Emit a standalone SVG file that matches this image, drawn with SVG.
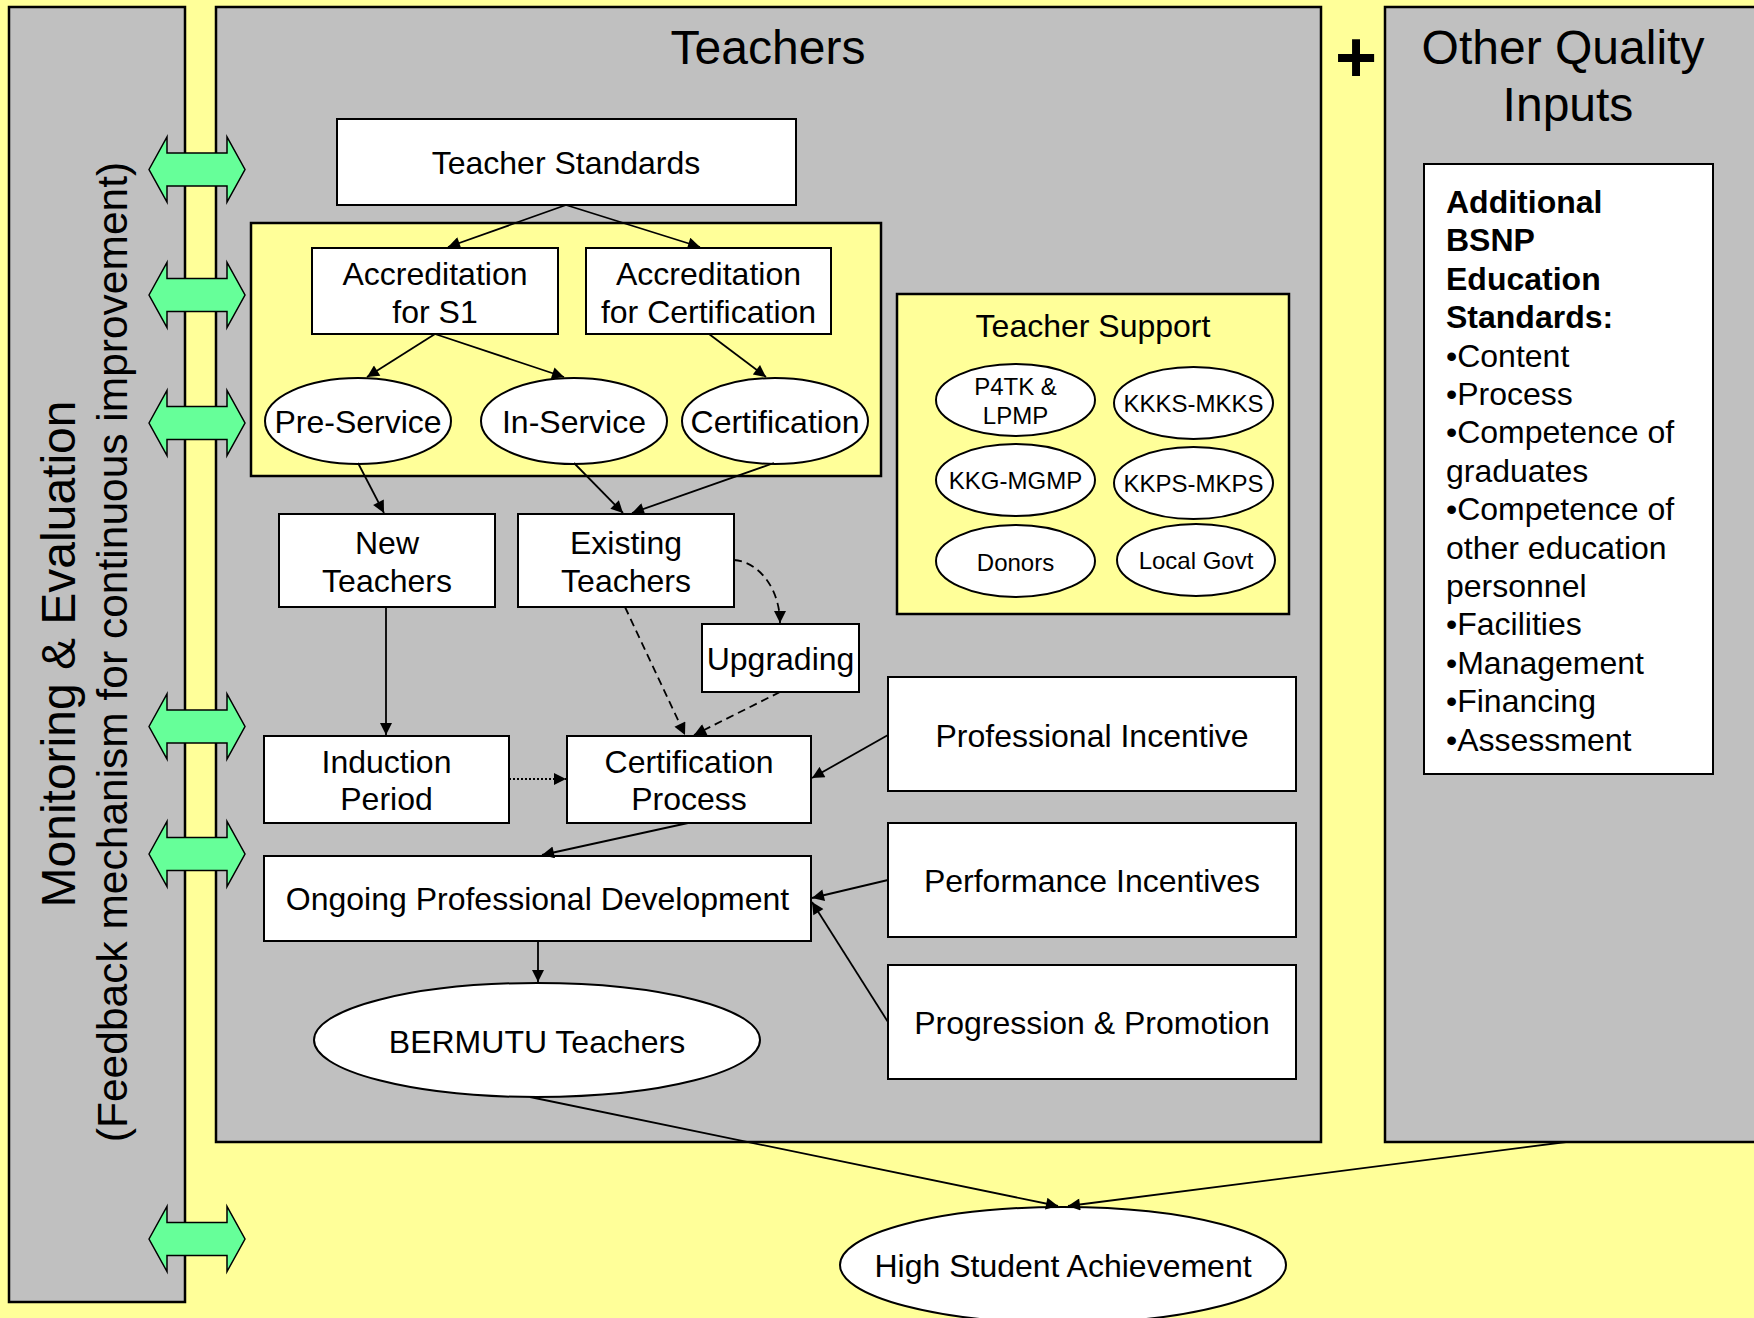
<svg xmlns="http://www.w3.org/2000/svg" width="1754" height="1318" viewBox="0 0 1754 1318">
<style>
text { font-family: "Liberation Sans", Arial, Helvetica, sans-serif; fill: #000; }
.c { text-anchor: middle; }
.f32 { font-size: 32px; }
.f24 { font-size: 24px; }
.f48 { font-size: 48px; }
.panel { fill: #C0C0C0; stroke: #000; stroke-width: 2.5; }
.ybox { fill: #FFFF99; stroke: #000; stroke-width: 2.5; }
.box { fill: #FFFFFF; stroke: #000; stroke-width: 2; }
.dbl { fill: #66FF99; stroke: #000; stroke-width: 1.5; }
.ln { fill: none; stroke: #000; stroke-width: 1.8; marker-end: url(#ah); }
.dash { stroke-dasharray: 8 5; }
.dot { stroke-dasharray: 2 2; }
.b { font-weight: bold; }
</style>
<defs>
<marker id="ah" viewBox="0 0 10 10" refX="10" refY="5" markerWidth="14" markerHeight="12" markerUnits="userSpaceOnUse" orient="auto">
<path d="M0,0 L10,5 L0,10 Z" fill="#000"/>
</marker>
<path id="dblarrow" class="dbl" d="M149,0 L167,-32.5 L167,-16.5 L227,-16.5 L227,-32.5 L245,0 L227,32.5 L227,16.5 L167,16.5 L167,32.5 Z"/>
</defs>
<rect x="0" y="0" width="1754" height="1318" fill="#FFFF99"/>

<g id="monitoring-panel">
<rect class="panel" x="9" y="7" width="176" height="1295"/>
<text class="c f48" transform="translate(75,654) rotate(-90)">Monitoring &amp; Evaluation</text>
<text class="c" font-size="42.5" transform="translate(127,652) rotate(-90)">(Feedback mechanism for continuous improvement)</text>
</g>

<g id="teachers-panel">
<rect class="panel" x="216" y="7" width="1105" height="1135"/>
<text class="c f48" x="768" y="64">Teachers</text>
</g>

<g id="plus">
<text class="c b" font-size="72" x="1356" y="82">+</text>
</g>

<g id="other-panel">
<rect class="panel" x="1385" y="7" width="380" height="1135"/>
<text class="c f48" x="1563" y="64">Other Quality</text>
<text class="c f48" x="1568" y="121">Inputs</text>
</g>

<g id="feedback-arrows">
<use href="#dblarrow" transform="translate(0,169.5)"/>
<use href="#dblarrow" transform="translate(0,295)"/>
<use href="#dblarrow" transform="translate(0,423)"/>
<use href="#dblarrow" transform="translate(0,726.5)"/>
<use href="#dblarrow" transform="translate(0,854)"/>
<use href="#dblarrow" transform="translate(0,1239)"/>
</g>

<g id="accreditation-group">
<rect class="ybox" x="251" y="223" width="630" height="253"/>
</g>

<g id="teacher-standards">
<rect class="box" x="337" y="119" width="459" height="86"/>
<text class="c f32" x="566" y="174">Teacher Standards</text>
</g>

<g id="accreditation-s1">
<rect class="box" x="312" y="248" width="246" height="86"/>
<text class="c f32" x="435" y="285">Accreditation</text>
<text class="c f32" x="435" y="323">for S1</text>
</g>

<g id="accreditation-cert">
<rect class="box" x="586" y="248" width="245" height="86"/>
<text class="c f32" x="708.5" y="285">Accreditation</text>
<text class="c f32" x="708.5" y="323">for Certification</text>
</g>

<g id="pre-service">
<ellipse class="box" cx="358" cy="421" rx="93" ry="43"/>
<text class="c f32" x="358" y="433">Pre-Service</text>
</g>

<g id="in-service">
<ellipse class="box" cx="574" cy="421" rx="93" ry="43"/>
<text class="c f32" x="574" y="433">In-Service</text>
</g>

<g id="certification">
<ellipse class="box" cx="775" cy="421" rx="93" ry="43"/>
<text class="c f32" x="775" y="433">Certification</text>
</g>

<g id="new-teachers">
<rect class="box" x="279" y="514" width="216" height="93"/>
<text class="c f32" x="387" y="554">New</text>
<text class="c f32" x="387" y="592">Teachers</text>
</g>

<g id="existing-teachers">
<rect class="box" x="518" y="514" width="216" height="93"/>
<text class="c f32" x="626" y="554">Existing</text>
<text class="c f32" x="626" y="592">Teachers</text>
</g>

<g id="upgrading">
<rect class="box" x="702" y="624" width="157" height="68"/>
<text class="c f32" x="780.5" y="670">Upgrading</text>
</g>

<g id="induction-period">
<rect class="box" x="264" y="736" width="245" height="87"/>
<text class="c f32" x="386.5" y="773">Induction</text>
<text class="c f32" x="386.5" y="810">Period</text>
</g>

<g id="certification-process">
<rect class="box" x="567" y="736" width="244" height="87"/>
<text class="c f32" x="689" y="773">Certification</text>
<text class="c f32" x="689" y="810">Process</text>
</g>

<g id="ongoing-pd">
<rect class="box" x="264" y="856" width="547" height="85"/>
<text class="c f32" x="537.5" y="910">Ongoing Professional Development</text>
</g>

<g id="professional-incentive">
<rect class="box" x="888" y="677" width="408" height="114"/>
<text class="c f32" x="1092" y="747">Professional Incentive</text>
</g>

<g id="performance-incentives">
<rect class="box" x="888" y="823" width="408" height="114"/>
<text class="c f32" x="1092" y="892">Performance Incentives</text>
</g>

<g id="progression-promotion">
<rect class="box" x="888" y="965" width="408" height="114"/>
<text class="c f32" x="1092" y="1034">Progression &amp; Promotion</text>
</g>

<g id="bermutu-teachers">
<ellipse class="box" cx="537" cy="1040" rx="223" ry="57"/>
<text class="c f32" x="537" y="1053">BERMUTU Teachers</text>
</g>

<g id="high-student-achievement">
<ellipse class="box" cx="1063" cy="1265" rx="223" ry="58"/>
<text class="c f32" x="1063" y="1277">High Student Achievement</text>
</g>

<g id="teacher-support">
<rect class="ybox" x="897" y="294" width="392" height="320"/>
<text class="c f32" x="1093" y="337">Teacher Support</text>
</g>

<g id="p4tk-lpmp">
<ellipse class="box" cx="1015.5" cy="400" rx="79.5" ry="36"/>
<text class="c f24" x="1015.5" y="395">P4TK &amp;</text>
<text class="c f24" x="1015.5" y="424">LPMP</text>
</g>
<g id="kkks-mkks">
<ellipse class="box" cx="1193.5" cy="403" rx="79.5" ry="36"/>
<text class="c f24" x="1193.5" y="412">KKKS-MKKS</text>
</g>
<g id="kkg-mgmp">
<ellipse class="box" cx="1015.5" cy="480" rx="79.5" ry="36"/>
<text class="c f24" x="1015.5" y="489">KKG-MGMP</text>
</g>
<g id="kkps-mkps">
<ellipse class="box" cx="1193.5" cy="483" rx="79.5" ry="36"/>
<text class="c f24" x="1193.5" y="492">KKPS-MKPS</text>
</g>
<g id="donors">
<ellipse class="box" cx="1015.5" cy="561" rx="79.5" ry="36"/>
<text class="c f24" x="1015.5" y="571">Donors</text>
</g>
<g id="local-govt">
<ellipse class="box" cx="1196" cy="560" rx="79" ry="36"/>
<text class="c f24" x="1196" y="569">Local Govt</text>
</g>

<g id="bsnp-standards">
<rect class="box" x="1424" y="164" width="289" height="610"/>
<text class="f32 b" x="1446" y="213">Additional</text>
<text class="f32 b" x="1446" y="251.4">BSNP</text>
<text class="f32 b" x="1446" y="289.8">Education</text>
<text class="f32 b" x="1446" y="328.2">Standards:</text>
<text class="f32" x="1446" y="366.6">•Content</text>
<text class="f32" x="1446" y="405">•Process</text>
<text class="f32" x="1446" y="443.4">•Competence of</text>
<text class="f32" x="1446" y="481.8">graduates</text>
<text class="f32" x="1446" y="520.2">•Competence of</text>
<text class="f32" x="1446" y="558.6">other education</text>
<text class="f32" x="1446" y="597">personnel</text>
<text class="f32" x="1446" y="635.4">•Facilities</text>
<text class="f32" x="1446" y="673.8">•Management</text>
<text class="f32" x="1446" y="712.2">•Financing</text>
<text class="f32" x="1446" y="750.6">•Assessment</text>
</g>

<g id="connectors">
<path class="ln" d="M566,205 L448,247"/>
<path class="ln" d="M566,205 L700,247"/>
<path class="ln" d="M435,334 L367,377"/>
<path class="ln" d="M435,334 L564,377"/>
<path class="ln" d="M709,334 L766,377"/>
<path class="ln" d="M358,463 L384,513"/>
<path class="ln" d="M574,463 L623,513"/>
<path class="ln" d="M774,463 L632,513"/>
<path class="ln dash" d="M734,560 C760,562 780,590 780,623"/>
<path class="ln dash" d="M625,607 L685,735"/>
<path class="ln dash" d="M780,692 L694,735"/>
<path class="ln" d="M386,607 L386,735"/>
<path class="ln dot" d="M509,779 L566,779"/>
<path class="ln" d="M688,823 L542,855"/>
<path class="ln" d="M888,735 L812,778"/>
<path class="ln" d="M888,880 L812,898"/>
<path class="ln" d="M888,1022 L812,902"/>
<path class="ln" d="M538,941 L538,982"/>
<path class="ln" d="M530,1097 L1058,1206"/>
<path class="ln" d="M1566,1142 L1068,1206"/>
</g>
</svg>
